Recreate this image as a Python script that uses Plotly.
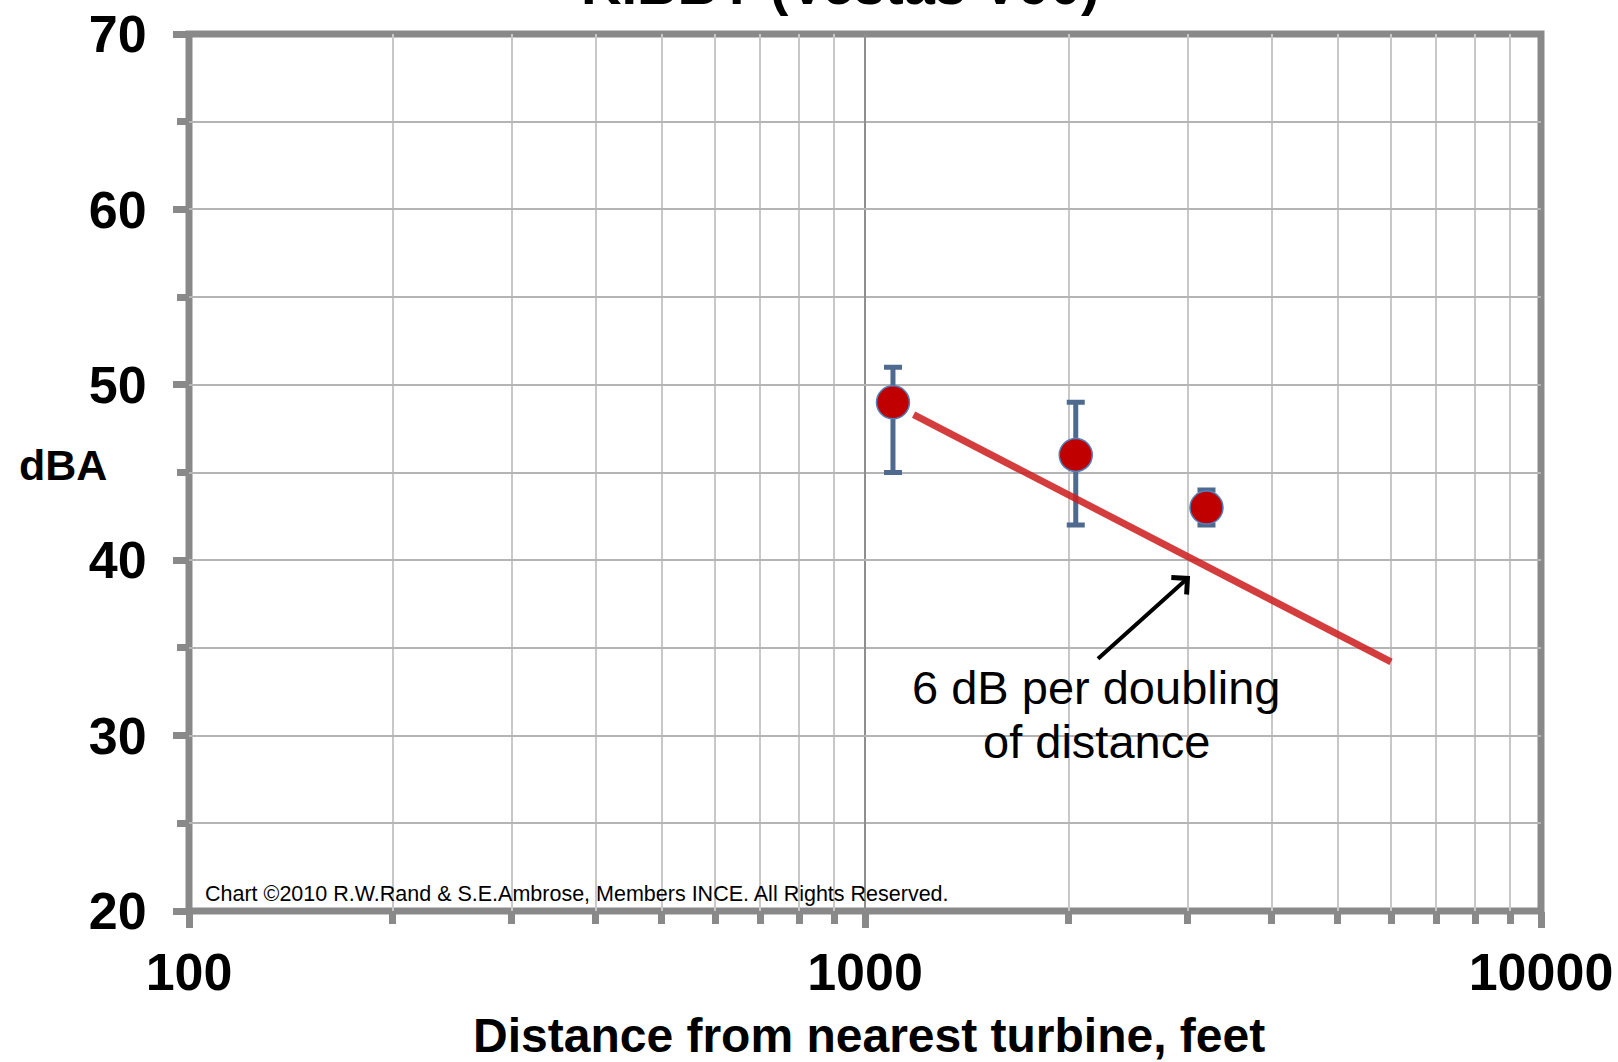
import math
import plotly.graph_objects as go

# Measured sound levels at three receiver distances
distance_ft = [1100, 2050, 3200]
level_dba = [49, 46, 43]
err_plus = [2, 3, 1]
err_minus = [4, 4, 1]

# Reference slope: 6 dB per doubling of distance
trend_ft = [1180, 6000]
trend_dba = [48.3, 34.2]

# Arrow pointing at the reference line
arrow_tip_ft, arrow_tip_dba = 3026, 39.1
arrow_tail_ft, arrow_tail_dba = 2200, 34.3

x_major_ticks = [100, 1000, 10000]
x_minor_ticks = [200, 300, 400, 500, 600, 700, 800, 900,
                 2000, 3000, 4000, 5000, 6000, 7000, 8000, 9000]
y_major_ticks = [20, 30, 40, 50, 60, 70]
y_minor_ticks = [25, 35, 45, 55, 65]

FONT = "Liberation Sans, Arial, sans-serif"
AXIS_GREY = "#898989"

fig = go.Figure()

fig.add_trace(go.Scatter(
    x=distance_ft, y=level_dba, mode="markers",
    marker=dict(size=33, color="#c00000", line=dict(color="#4f81bd", width=1.5)),
    error_y=dict(type="data", symmetric=False, array=err_plus, arrayminus=err_minus,
                 color="#4e6a8e", thickness=5, width=9),
    showlegend=False,
))

fig.add_trace(go.Scatter(
    x=trend_ft, y=trend_dba, mode="lines",
    line=dict(color="rgba(204,32,32,0.87)", width=7),
    showlegend=False,
))

tick_font = dict(family=FONT, size=52, color="black", weight="bold")

fig.update_xaxes(
    type="log", range=[2, 4], automargin=False,
    tickmode="array", tickvals=x_major_ticks, ticktext=[str(v) for v in x_major_ticks],
    tickfont=tick_font, ticks="outside", ticklen=16, tickwidth=7, tickcolor=AXIS_GREY,
    ticklabelstandoff=0,
    showline=False,
    showgrid=True, gridcolor="#8f8f8f", gridwidth=2,
    minor=dict(tickmode="array", tickvals=x_minor_ticks, ticks="outside", ticklen=12,
               tickwidth=7, tickcolor=AXIS_GREY, showgrid=True,
               gridcolor="#c8c8c8", gridwidth=1.5),
    zeroline=False,
)

fig.update_yaxes(
    range=[20, 70], automargin=False,
    tickmode="array", tickvals=y_major_ticks, ticktext=[str(v) for v in y_major_ticks],
    tickfont=tick_font, ticks="outside", ticklen=15, tickwidth=7, tickcolor=AXIS_GREY,
    ticklabelstandoff=16,
    showline=False,
    showgrid=True, gridcolor="#b4b4b4", gridwidth=1.5,
    minor=dict(tickmode="array", tickvals=y_minor_ticks, ticks="outside", ticklen=11,
               tickwidth=7, tickcolor=AXIS_GREY, showgrid=True,
               gridcolor="#b4b4b4", gridwidth=1.5),
    zeroline=False,
)

# Plot frame centred on the plot-area edges
fig.add_shape(type="rect", xref="paper", yref="paper", x0=0, x1=1, y0=0, y1=1,
              line=dict(color=AXIS_GREY, width=7), fillcolor="rgba(0,0,0,0)", layer="between")

# White strip behind the caption's second line
fig.add_shape(type="line", xref="paper", yref="y", x0=0.5207, x1=0.8166, y0=30, y1=30,
              line=dict(color="white", width=4), layer="between")

caption_font = dict(family=FONT, size=47, color="black")

annotations = [
    dict(text="KIBBY (Vestas V90)", xref="paper", yref="paper", x=0.482, y=1.056,
         xanchor="center", yanchor="middle", showarrow=False,
         font=dict(family=FONT, size=56, color="black", weight="bold")),
    dict(text="Distance from nearest turbine, feet", xref="paper", yref="paper",
         x=0.503, y=-0.1425, xanchor="center", yanchor="middle", showarrow=False,
         font=dict(family=FONT, size=48, color="black", weight="bold")),
    dict(text="dBA", xref="paper", yref="paper", x=-0.0932, y=0.5086,
         xanchor="center", yanchor="middle", showarrow=False,
         font=dict(family=FONT, size=43, color="black", weight="bold")),
    dict(text="Chart \u00a92010 R.W.Rand &amp; S.E.Ambrose, Members INCE. All Rights Reserved.",
         xref="paper", yref="paper", x=0.0104, y=0.019, xanchor="left", yanchor="middle",
         showarrow=False, font=dict(family=FONT, size=21.5, color="black")),
    dict(text="6 dB per doubling", xref="paper", yref="paper",
         x=0.6709, y=(911 - 687) / 877, xanchor="center", yanchor="middle", showarrow=False,
         font=caption_font),
    dict(text="of distance", xref="paper", yref="paper",
         x=0.6709, y=(911 - 741) / 877, xanchor="center", yanchor="middle", showarrow=False,
         font=caption_font),
    dict(text="", xref="x", yref="y", axref="x", ayref="y",
         x=math.log10(arrow_tip_ft), y=arrow_tip_dba,
         ax=math.log10(arrow_tail_ft), ay=arrow_tail_dba,
         showarrow=True, arrowhead=4, arrowsize=1.1, arrowwidth=4, arrowcolor="black"),
]
fig.update_layout(annotations=annotations)

fig.update_layout(
    width=1618, height=1062,
    margin=dict(l=189, r=77, t=34, b=151),
    paper_bgcolor="white", plot_bgcolor="white",
    showlegend=False,
)

fig.write_html("out.html")
